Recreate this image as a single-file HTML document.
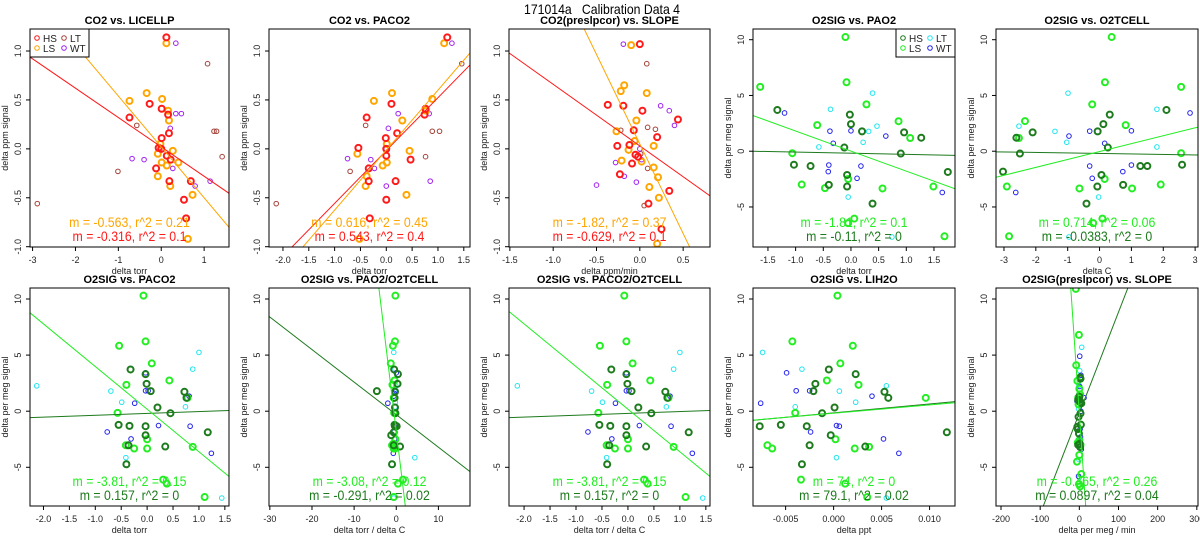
<!DOCTYPE html>
<html><head><meta charset="utf-8">
<style>
html,body{margin:0;padding:0;background:#fff;width:1200px;height:550px;overflow:hidden;}
svg{display:block;font-family:"Liberation Sans",sans-serif;}
</style></head>
<body>
<svg id="chart" width="1200" height="550" viewBox="0 0 1200 550" xmlns="http://www.w3.org/2000/svg">
<text x="524" y="14" font-size="14" xml:space="preserve" textLength="156" lengthAdjust="spacingAndGlyphs">171014a   Calibration Data 4</text>
</svg>
<script>
// ---- data (x,y pairs per group) ----
const p1_HS=[[0.12,1.14],[-0.74,0.32],[-0.27,0.46],[0.01,0.41],[0.16,0.35],[0.01,0.11],[0.18,0.16],[-0.06,0.01],[0,0],[0.13,-0.07],[0.22,-0.11],[-0.12,-0.2],[0.19,-0.33],[0.69,-0.33],[0.53,-0.52],[0.58,-0.71]];
const p1_LS=[[0.12,1.08],[-0.74,0.49],[-0.34,0.57],[0.02,0.51],[0.16,0.39],[0.18,0.29],[-0.02,0.05],[0.27,-0.02],[-0.08,-0.05],[0.01,-0.14],[0.13,-0.17],[0.4,-0.14],[-0.08,-0.28],[0.21,-0.38],[0.73,-0.47],[0.62,-0.92]];
const p1_LT=[[1.08,0.87],[-0.57,0.24],[1.23,0.18],[1.29,0.18],[1.42,-0.08],[-1.01,-0.23],[-2.89,-0.56]];
const p1_WT=[[0.34,1.08],[0.34,0.36],[0.47,0.36],[0.21,0.21],[0,0],[-0.68,-0.1],[-0.4,-0.11],[0.27,-0.2],[0.79,-0.38],[1.14,-0.33]];
const p1_fit=[[-0.30,0.02],[-0.52,0.02]];

const p2_HS=[[1.18,1.14],[-0.38,0.32],[0.1,0.46],[-0.01,0.11],[0.21,0.16],[-0.54,0.01],[0,0],[0,-0.07],[0.47,-0.11],[-0.34,-0.2],[-0.34,-0.33],[0.18,-0.33],[0,-0.52],[-0.32,-0.71],[0.74,0.35],[0.76,0.41]];
const p2_LS=[[1.12,1.08],[0.89,0.51],[0.11,0.57],[-0.24,0.49],[0.31,0.29],[0.77,0.39],[0.01,0.05],[0.45,-0.02],[-0.56,-0.05],[0.01,-0.14],[-0.07,-0.17],[-0.38,-0.28],[-0.4,-0.38],[0.39,-0.47],[-0.52,-0.92]];
const p2_LT=[[1.46,0.87],[-0.4,0.24],[0.89,0.18],[1.03,0.18],[0.76,-0.08],[-0.7,-0.23],[-2.13,-0.56]];
const p2_WT=[[1.27,1.08],[0.23,0.36],[0.83,0.36],[0.04,0.21],[0,0],[-0.75,-0.1],[-0.3,-0.11],[-0.23,-0.2],[0,-0.38],[0.85,-0.33]];
const p2_fit=[[0.54,-0.017],[0.613,-0.013]];

const p3_HS=[[0,1.07],[-0.37,0.45],[-0.19,0.44],[0.03,0.39],[-0.07,0.19],[0.2,0.12],[-0.26,0.03],[-0.12,0.04],[-0.05,-0.06],[-0.02,-0.08],[-0.09,-0.15],[-0.23,-0.26],[0.34,-0.43],[0.1,-0.56],[0.25,-0.82],[0.44,0.3]];
const p3_LS=[[-0.1,1.06],[-0.18,0.65],[-0.22,0.59],[0.08,0.57],[-0.04,0.29],[-0.27,0.18],[-0.06,0.08],[0.16,0.03],[-0.13,-0.01],[-0.21,-0.12],[0.02,-0.13],[0.16,-0.19],[0.21,-0.29],[0.11,-0.39],[0.22,-0.5],[0.2,-0.97]];
const p3_LT=[[0.08,0.87],[0.09,0.22],[0.18,0.2],[-0.22,0.19],[0.01,-0.05],[0.09,-0.2],[0.05,-0.58]];
const p3_WT=[[-0.19,1.07],[0.24,0.44],[0.34,0.39],[0.4,0.24],[0,0],[-0.28,-0.14],[-0.18,-0.28],[-0.04,-0.34],[-0.5,-0.37],[0.02,-0.11]];
const p3_fit=[[-0.63,0.03],[-1.83,0.05]];

const p4_HS=[[-1.33,3.7],[-0.12,0.33],[-0.02,3.28],[0,2.43],[0.2,1.78],[0.96,1.69],[1.27,1.21],[0.9,-0.21],[-1.03,-1.21],[-0.73,-1.33],[-0.07,-2.13],[-0.07,-3.17],[-0.4,-3.02],[0.39,-4.7],[1.75,-1.86]];
const p4_LS=[[-0.1,10.24],[-0.08,6.18],[-1.64,5.77],[0.28,4.2],[-0.61,2.34],[0.86,2.69],[1.07,1.18],[-1.06,-0.18],[-0.89,-2.99],[-0.47,-3.31],[-0.05,-2.49],[0.57,-3.34],[1.49,-3.17],[0.06,-6.04],[-0.05,-6.45],[1.69,-7.63]];
const p4_LT=[[0.39,5.21],[-0.37,3.76],[0.47,2.25],[-0.58,0.38],[-0.05,-4.11],[0.74,-7.69],[0.32,1.78],[0.22,0.8]];
const p4_WT=[[-1.2,3.43],[-0.38,1.8],[0,1.83],[-0.32,0.71],[0.63,1.36],[-0.4,-1.24],[-0.41,-1.83],[0.18,-1.33],[0.11,-2.43],[1.65,-3.7]];
const p4_fit=[[-0.1,-0.18],[-1.8,0.01]];

const p5_HS=[[-3.03,-1.83],[-2.61,1.21],[-2.5,-0.21],[-2.1,1.69],[-0.41,-4.7],[-0.06,1.78],[0.12,2.43],[0.32,3.28],[0.06,-2.13],[0.26,0.33],[-0.07,-3.17],[0.74,-3.02],[1.28,-1.33],[1.5,-1.33],[2.1,3.7],[2.59,-1.21]];
const p5_LS=[[0.38,10.24],[0.17,6.18],[2.56,5.77],[-0.23,4.2],[-2.34,2.7],[0.82,2.34],[-2.53,1.18],[2.56,-0.18],[-2.91,-3.17],[-0.63,-3.34],[0.16,-2.49],[1.02,-3.34],[1.92,-2.99],[0.09,-6.04],[-0.2,-6.45],[-2.84,-7.63]];
const p5_LT=[[-0.99,5.21],[1.8,3.76],[-2.53,2.25],[1.8,0.38],[-0.03,-4.11],[-0.96,-7.69],[-1.4,1.78],[-1.03,0.8]];
const p5_WT=[[2.84,3.43],[-0.31,1.8],[1.0,1.83],[0.16,0.71],[-0.96,1.36],[-0.31,-1.33],[0.73,-1.83],[1.0,-1.24],[-0.23,-2.43],[-2.63,-3.7]];
const p5_fit=[[-0.045,-0.2],[0.71,-0.03]];

const p6_HS=[[-0.32,3.72],[-0.03,3.3],[-0.01,2.44],[0.07,1.79],[0.72,1.73],[0.76,1.19],[0.2,0.33],[0.45,-0.18],[-0.55,-1.22],[-0.34,-1.31],[-0.03,-1.34],[-0.03,-2.14],[-0.36,-3.04],[0.35,-3.15],[1.17,-1.88],[-0.4,-4.73]];
const p6_LS=[[-0.07,10.3],[-0.03,6.22],[-0.54,5.83],[0.09,4.26],[-0.4,2.35],[0.43,2.74],[0.78,1.19],[-0.57,-0.15],[0,-2.5],[-0.41,-3.04],[-0.25,-3.33],[0,-3.33],[0.88,-3.18],[0.31,-6.1],[0.38,-6.46],[1.11,-7.65]];
const p6_LT=[[-2.13,2.26],[1.0,5.24],[0.88,3.75],[0.74,0.39],[-0.41,-4.14],[1.44,-7.74],[-0.7,1.79],[-0.49,0.8]];
const p6_WT=[[-0.03,3.42],[-0.03,1.82],[0.02,1.82],[-0.24,0.71],[0.81,1.34],[-0.77,-1.85],[0.22,-1.28],[-0.31,-2.47],[0.83,-1.34],[1.24,-3.75]];
const p6_fit=[[0.164,-0.2],[-3.8,0.18]];

const p7_HS=[[-0.5,3.72],[0.4,3.3],[0.3,2.44],[-4.6,1.79],[-0.3,1.73],[-0.4,1.19],[-0.3,0.33],[-0.2,-0.18],[-0.4,-1.22],[-0.3,-1.31],[-1.2,-2.14],[0.1,-1.34],[-0.6,-3.04],[0.9,-3.15],[-0.6,-1.88],[-1.0,-4.73]];
const p7_LS=[[-0.2,10.3],[-0.3,6.22],[-0.8,5.83],[-1.3,4.26],[-0.9,2.35],[-0.4,2.74],[-0.6,1.19],[-0.5,-0.15],[-0.2,-2.5],[-1.0,-3.04],[-0.6,-3.33],[-0.3,-3.33],[-0.5,-3.18],[1.6,-6.1],[0.4,-6.46],[-0.6,-7.65],[-0.7,-2.9]];
const p7_LT=[[-0.6,5.24],[-0.3,3.75],[-0.1,2.26],[-0.3,0.39],[4.4,-4.14],[-0.6,-7.74],[-0.4,1.79],[-0.2,0.8]];
const p7_WT=[[0,3.42],[-0.1,1.82],[-0.5,1.6],[-2.0,0.71],[-0.6,1.34],[-0.5,-1.85],[-0.3,-1.28],[-0.4,-2.47],[-0.6,-1.34],[-0.7,-3.75]];
const p7_fit=[[-0.29,-0.31],[-3.1,-1.8]];

const p9_HS=[[-0.0005,3.72],[0.0023,3.3],[-0.0019,2.44],[-0.0021,1.79],[0.0053,1.73],[0.0057,1.19],[0.0001,0.33],[-0.0012,-0.18],[-0.0055,-1.22],[-0.0077,-1.34],[-0.0028,-1.34],[-0.0003,-2.14],[-0.0025,-3.04],[0.0033,-3.15],[0.0118,-1.88],[-0.0033,-4.73]];
const p9_LS=[[0.0004,10.3],[-0.0043,6.22],[0.002,5.83],[0.0007,4.26],[0.0026,2.35],[-0.0007,2.74],[0.0096,1.19],[-0.004,-0.15],[0.0002,-2.5],[-0.0069,-3.04],[-0.0064,-3.33],[0.0022,-3.33],[0.0037,-3.18],[-0.0034,-6.1],[0.0012,-6.46],[0.0035,-7.65]];
const p9_LT=[[-0.0074,5.24],[-0.0033,3.75],[0.0055,2.26],[-0.004,0.39],[0.0003,-4.14],[0.0055,-7.74],[0.0006,1.79],[0.0023,0.8]];
const p9_WT=[[-0.0049,3.42],[-0.0039,1.82],[-0.0025,1.82],[-0.0076,0.71],[0.004,1.34],[-0.0024,-1.85],[0.0003,-1.28],[0.0006,-1.34],[0.0052,-2.47],[0.0068,-3.75]];
const p9_fit=[[79,-0.15],[74,-0.18]];

const p10_HS=[[2,3.0],[3,2.9],[0,1.3],[-3,1.0],[2,0.8],[5,0.7],[3,-0.2],[-2,-0.5],[-5,-1.4],[-4,-1.6],[1,-2.9],[-3,-3.0],[2,-3.2],[-1,-2.0],[4,-1.2],[0,1.0]];
const p10_LS=[[-9,10.9],[-1,6.8],[-8,4.1],[-5,2.7],[0,2.0],[2,1.5],[-2,0.6],[-3,1.2],[0,-2.6],[-4,-2.8],[3,-3.0],[0,-3.9],[5,-5.6],[-1,-6.5],[2,-6.7],[-6,-4.5]];
const p10_LT=[[6,5.7],[1,3.6],[-1,2.3],[-2,0.2],[-1,-4.3],[0,-5.9]];
const p10_WT=[[1,4.9],[4,3.2],[2,1.0],[12,1.2],[-6,0.9],[4,0.0],[2,-1.6],[3,-2.3],[5,-3.4],[-2,-5.8],[1,2.2]];
const p10_fit=[[0.09,-0.17],[-0.51,-0.2]];

const ticksCO2Y=[-1,-0.5,0,0.5,1];
const ticksO2Y=[-5,0,5,10];
const ticksP1X=[-3,-2,-1,0,1];
const ticksP2X=[-2,-1.5,-1,-0.5,0,0.5,1,1.5];
const ticksP3X=[-1.5,-1,-0.5,0,0.5];
const ticksP4X=[-1.5,-1,-0.5,0,0.5,1,1.5];
const ticksP5X=[-3,-2,-1,0,1,2,3];
const ticksP7X=[-30,-20,-10,0,10];
const ticksP9X=[-0.005,0,0.005,0.01];
const ticksP10X=[-200,-100,0,100,200,300];

const statsText=[
 ["m = -0.563, r^2 = 0.21","m = -0.316, r^2 = 0.1"],
 ["m = 0.616, r^2 = 0.45","m = 0.543, r^2 = 0.4"],
 ["m = -1.82, r^2 = 0.37","m = -0.629, r^2 = 0.1"],
 ["m = -1.81, r^2 = 0.1","m = -0.11, r^2 = 0"],
 ["m = 0.714, r^2 = 0.06","m = -0.0383, r^2 = 0"],
 ["m = -3.81, r^2 = 0.15","m = 0.157, r^2 = 0"],
 ["m = -3.08, r^2 = 0.12","m = -0.291, r^2 = 0.02"],
 ["m = -3.81, r^2 = 0.15","m = 0.157, r^2 = 0"],
 ["m = 74, r^2 = 0","m = 79.1, r^2 = 0.02"],
 ["m = -0.465, r^2 = 0.26","m = 0.0897, r^2 = 0.04"]];

// ---- layout ----
const CO2C={HS:"#ff1a1a",LS:"#ffa500",LT:"#a5443a",WT:"#a020f0"};
const O2C={HS:"#1d7a1d",LS:"#22ee22",LT:"#22e5f0",WT:"#2222ee"};
const TOP=[29,247], BOT=[288,506];
const panels=[
 {t:"CO2 vs. LICELLP",x0:30,x1:229,r:TOP,xd:[-3.06,1.58],yd:[-1.003,1.225],c:CO2C,d:[p1_HS,p1_LS,p1_LT,p1_WT],f:p1_fit,xt:ticksP1X,yt:ticksCO2Y,xl:"delta torr",yl:"delta ppm signal",leg:"left",fmtx:v=>String(v),fmty:v=>v.toFixed(1)},
 {t:"CO2 vs. PACO2",x0:269,x1:470,r:TOP,xd:[-2.27,1.62],yd:[-1.003,1.225],c:CO2C,d:[p2_HS,p2_LS,p2_LT,p2_WT],f:p2_fit,xt:ticksP2X,yt:ticksCO2Y,xl:"delta torr",yl:"delta ppm signal",fmtx:v=>v.toFixed(1),fmty:v=>v.toFixed(1)},
 {t:"CO2(preslpcor) vs. SLOPE",x0:509,x1:710,r:TOP,xd:[-1.51,0.81],yd:[-1.003,1.225],c:CO2C,d:[p3_HS,p3_LS,p3_LT,p3_WT],f:p3_fit,xt:ticksP3X,yt:ticksCO2Y,xl:"delta ppm/min",yl:"delta ppm signal",fmtx:v=>v.toFixed(1),fmty:v=>v.toFixed(1)},
 {t:"O2SIG vs. PAO2",x0:753,x1:955,r:TOP,xd:[-1.77,1.88],yd:[-8.59,10.96],c:O2C,d:[p4_HS,p4_LS,p4_LT,p4_WT],f:p4_fit,xt:ticksP4X,yt:ticksO2Y,xl:"delta torr",yl:"delta per meg signal",leg:"right",fmtx:v=>v.toFixed(1),fmty:v=>String(v)},
 {t:"O2SIG vs. O2TCELL",x0:996,x1:1198,r:TOP,xd:[-3.25,3.09],yd:[-8.59,10.96],c:O2C,d:[p5_HS,p5_LS,p5_LT,p5_WT],f:p5_fit,xt:ticksP5X,yt:ticksO2Y,xl:"delta C",yl:"delta per meg signal",fmtx:v=>String(v),fmty:v=>String(v)},
 {t:"O2SIG vs. PACO2",x0:30,x1:229,r:BOT,xd:[-2.26,1.58],yd:[-8.45,10.98],c:O2C,d:[p6_HS,p6_LS,p6_LT,p6_WT],f:p6_fit,xt:ticksP2X,yt:ticksO2Y,xl:"delta torr",yl:"delta per meg signal",fmtx:v=>v.toFixed(1),fmty:v=>String(v)},
 {t:"O2SIG vs. PAO2/O2TCELL",x0:269,x1:470,r:BOT,xd:[-30.2,17.5],yd:[-8.45,10.98],c:O2C,d:[p7_HS,p7_LS,p7_LT,p7_WT],f:p7_fit,xt:ticksP7X,yt:ticksO2Y,xl:"delta torr / delta C",yl:"delta per meg signal",fmtx:v=>String(v),fmty:v=>String(v)},
 {t:"O2SIG vs. PACO2/O2TCELL",x0:509,x1:710,r:BOT,xd:[-2.29,1.58],yd:[-8.45,10.98],c:O2C,d:[p6_HS,p6_LS,p6_LT,p6_WT],f:p6_fit,xt:ticksP2X,yt:ticksO2Y,xl:"delta torr / delta C",yl:"delta per meg signal",fmtx:v=>v.toFixed(1),fmty:v=>String(v)},
 {t:"O2SIG vs. LIH2O",x0:753,x1:955,r:BOT,xd:[-0.0084,0.01265],yd:[-8.45,10.98],c:O2C,d:[p9_HS,p9_LS,p9_LT,p9_WT],f:p9_fit,xt:ticksP9X,yt:ticksO2Y,xl:"delta ppt",yl:"delta per meg signal",fmtx:v=>v.toFixed(3),fmty:v=>String(v)},
 {t:"O2SIG(preslpcor) vs. SLOPE",x0:996,x1:1198,r:BOT,xd:[-212.8,303],yd:[-8.45,10.98],c:O2C,d:[p10_HS,p10_LS,p10_LT,p10_WT],f:p10_fit,xt:ticksP10X,yt:ticksO2Y,xl:"delta per meg / min",yl:"delta per meg signal",fmtx:v=>String(v),fmty:v=>String(v)}
];
const NS="http://www.w3.org/2000/svg";
const svg=document.getElementById("chart");
function mk(tag,attrs,parent){const e=document.createElementNS(NS,tag);for(const k in attrs)e.setAttribute(k,attrs[k]);(parent||svg).appendChild(e);return e;}
const groups=["HS","LS","LT","WT"];
panels.forEach((p,i)=>{
  const g=mk("g",{});
  
  
  const y0=p.r[0],y1=p.r[1];
  const sx=v=>p.x0+(v-p.xd[0])/(p.xd[1]-p.xd[0])*(p.x1-p.x0);
  const sy=v=>y1-(v-p.yd[0])/(p.yd[1]-p.yd[0])*(y1-y0);
  const cx=(p.x0+p.x1)/2;
  const title=mk("text",{x:cx,y:y0-5,"font-size":"11","font-weight":"bold","text-anchor":"middle"},g);
  title.textContent=p.t;
  
  
  const cp=mk("clipPath",{id:"cp"+i},g);
  mk("rect",{x:p.x0,y:y0,width:p.x1-p.x0,height:y1-y0},cp);
  const pg=mk("g",{"clip-path":"url(#cp"+i+")"},g);
  [2,3,1,0].forEach(gi=>{
    const thick=gi<2;
    p.d[gi].forEach(pt=>{
      const c=mk("circle",{cx:sx(pt[0]),cy:sy(pt[1]),r:thick?3:2.3,fill:"none",stroke:p.c[groups[gi]],"stroke-width":thick?2:1},pg);
      
      
    });
  });
  [0,1].forEach(k=>{
    const m=p.f[k][0],b=p.f[k][1];
    const l=mk("line",{x1:sx(p.xd[0]),y1:sy(m*p.xd[0]+b),x2:sx(p.xd[1]),y2:sy(m*p.xd[1]+b),stroke:p.c[k===0?"HS":"LS"],"stroke-width":1},pg);
    
    
  });
  const fr=mk("rect",{x:p.x0,y:y0,width:p.x1-p.x0,height:y1-y0,fill:"none",stroke:"#000","stroke-width":1},g);
  
  
  const s1=mk("text",{x:cx,y:y1-20,"font-size":"14","text-anchor":"middle",fill:p.c.LS,transform:"translate("+cx+" 0) scale(0.88 1) translate("+(-cx)+" 0)"},g);
  s1.textContent=statsText[i][0];
  
  
  const s2=mk("text",{x:cx,y:y1-6,"font-size":"14","text-anchor":"middle",fill:p.c.HS,transform:"translate("+cx+" 0) scale(0.88 1) translate("+(-cx)+" 0)"},g);
  s2.textContent=statsText[i][1];
  
  
  p.xt.forEach(v=>{
    const x=sx(v);
    mk("line",{x1:x,y1:y1,x2:x,y2:y1+4,stroke:"#000","stroke-width":1},g);
    const t=mk("text",{x:x,y:y1+16,"font-size":"9","text-anchor":"middle",fill:"#222"},g);
    t.textContent=p.fmtx(v);
    
    
  });
  const xt=mk("text",{x:cx,y:y1+27,"font-size":"9","text-anchor":"middle",fill:"#222"},g);
  xt.textContent=p.xl;
  
  
  p.yt.forEach(v=>{
    const y=sy(v);
    mk("line",{x1:p.x0-4,y1:y,x2:p.x0,y2:y,stroke:"#000","stroke-width":1},g);
    const t=mk("text",{x:p.x0-9,y:y,"font-size":"9","text-anchor":"middle",fill:"#222",transform:"rotate(-90 "+(p.x0-9)+" "+y+")"},g);
    t.textContent=p.fmty(v);
    
    
  });
  const ym=(y0+y1)/2;
  const yt=mk("text",{x:p.x0-22,y:ym,"font-size":"9","text-anchor":"middle",fill:"#222",transform:"rotate(-90 "+(p.x0-22)+" "+ym+")"},g);
  yt.textContent=p.yl;
  
  
  if(p.leg){
    const lx=p.leg==="left"?p.x0:p.x1-59;
    const lg=mk("g",{},g);
    
    
    mk("rect",{x:lx,y:y0,width:59,height:28,fill:"#fff",stroke:"#000","stroke-width":1},lg);
    [["HS",0,0],["LT",1,0],["LS",0,1],["WT",1,1]].forEach(e=>{
      const ex=lx+7+e[1]*27, ey=y0+9+e[2]*10;
      mk("circle",{cx:ex,cy:ey,r:2.3,fill:"none",stroke:p.c[e[0]],"stroke-width":1},lg);
      const t=mk("text",{x:ex+6,y:ey+4,"font-size":"10",fill:"#222"},lg);
      t.textContent=e[0];
      
      
    });
  }
});
</script>
</body></html>
